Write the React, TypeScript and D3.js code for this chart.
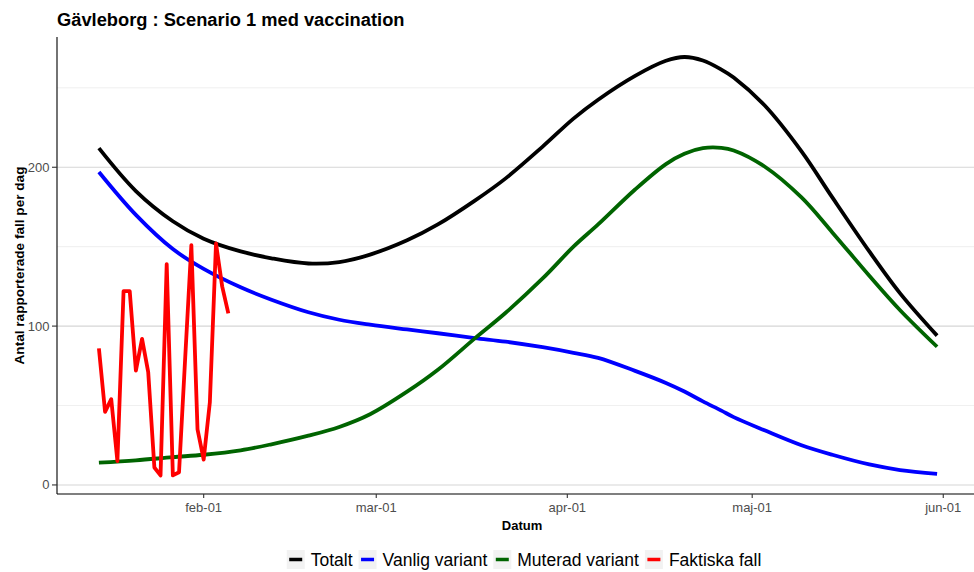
import React, { useRef, useEffect } from "react";
import * as d3 from "d3";

// modellkurvor
const modelDates = [
  "2021-01-15", "2021-01-21", "2021-01-27", "2021-02-01", "2021-02-07", "2021-02-12",
  "2021-02-18", "2021-02-23", "2021-02-28", "2021-03-06", "2021-03-11", "2021-03-17",
  "2021-03-22", "2021-03-28", "2021-04-02", "2021-04-06", "2021-04-12", "2021-04-17",
  "2021-04-20", "2021-04-23", "2021-04-26", "2021-04-28", "2021-05-03", "2021-05-09",
  "2021-05-14", "2021-05-20", "2021-05-25", "2021-05-31",
];
const totalt = [
  212, 185, 166, 155, 147, 142.7, 139.4, 140.3, 145, 154, 164, 179,
  193, 213, 230.6, 242.5, 257.5, 267, 269.4, 267.2, 261.5, 256.5, 239, 210,
  181, 147, 120.6, 94,
];
const vanlig = [
  197, 170, 148.5, 136, 124.4, 116.6, 108.7, 104, 100.9, 97.9, 95.5, 92.5,
  90.2, 86.7, 83.2, 80, 71.8, 64.2, 58.8, 52.6, 46.8, 42.7, 34.4, 25,
  19, 12.9, 9.4, 7,
];
const muterad = [
  14, 15.5, 17.5, 19, 21.8, 25.6, 31, 36.5, 44.5, 58.7, 72.5, 92.3,
  108.4, 130, 150, 164, 186, 202, 208.5, 212, 212.2, 210.6, 200.5, 181,
  159, 131.7, 110, 87,
];

// faktiska fall per dag
const faktiskaDates = [
  "2021-01-15", "2021-01-16", "2021-01-17", "2021-01-18", "2021-01-19", "2021-01-20",
  "2021-01-21", "2021-01-22", "2021-01-23", "2021-01-24", "2021-01-25", "2021-01-26",
  "2021-01-27", "2021-01-28", "2021-01-29", "2021-01-30", "2021-01-31", "2021-02-01",
  "2021-02-02", "2021-02-03", "2021-02-04", "2021-02-05",
];
const faktiska = [
  86, 46, 54, 15, 122, 122, 72, 92, 71, 11, 6, 139,
  6, 8, 80, 151, 35, 16, 52, 152, 125, 108,
];

const xTicks = ["2021-02-01", "2021-03-01", "2021-04-01", "2021-05-01", "2021-06-01"];
const xTickLabels = ["feb-01", "mar-01", "apr-01", "maj-01", "jun-01"];
const yMajor = [0, 100, 200];
const yMinor = [50, 150, 250];

const legendNames = ["Totalt", "Vanlig variant", "Muterad variant", "Faktiska fall"];
const legendColors = ["#000000", "#0000ff", "#006400", "#ff0000"];

const font = "'Liberation Sans', Arial, sans-serif";

function App() {
  const svgRef = useRef(null);

  useEffect(() => {
    document.body.style.margin = "0";
    const parse = d3.timeParse("%Y-%m-%d");
    const width = 974;
    const left = 57, right = 979, top = 37, bottom = 494;

    const svg = d3.select(svgRef.current);
    svg.selectAll("*").remove();

    const first = parse(modelDates[0]);
    const last = parse(modelDates[modelDates.length - 1]);
    const pad = (last - first) * 0.05;
    const x = d3.scaleTime()
      .domain([new Date(+first - pad), new Date(+last + pad)])
      .range([left, right]);
    const y = d3.scaleLinear().domain([-5.7, 282]).range([bottom, top]);

    // grid
    svg.append("g")
      .selectAll("line")
      .data(yMinor)
      .enter()
      .append("line")
      .attr("x1", left).attr("x2", width)
      .attr("y1", d => y(d)).attr("y2", d => y(d))
      .attr("stroke", "#ebebeb").attr("stroke-width", 0.8);
    svg.append("g")
      .selectAll("line")
      .data(yMajor)
      .enter()
      .append("line")
      .attr("x1", left).attr("x2", width)
      .attr("y1", d => y(d)).attr("y2", d => y(d))
      .attr("stroke", "#d6d6d6").attr("stroke-width", 1.1);

    // axlar
    svg.append("line")
      .attr("x1", left).attr("x2", left).attr("y1", top).attr("y2", bottom)
      .attr("stroke", "#000").attr("stroke-width", 1.1);
    svg.append("line")
      .attr("x1", left).attr("x2", width).attr("y1", bottom).attr("y2", bottom)
      .attr("stroke", "#000").attr("stroke-width", 1.1);

    // y ticks
    const yt = svg.append("g").selectAll("g").data(yMajor).enter().append("g");
    yt.append("line")
      .attr("x1", left - 5).attr("x2", left)
      .attr("y1", d => y(d)).attr("y2", d => y(d))
      .attr("stroke", "#333").attr("stroke-width", 1.1);
    yt.append("text")
      .attr("x", left - 7.5).attr("y", d => y(d))
      .attr("dy", "0.35em")
      .attr("text-anchor", "end")
      .style("font-family", font).style("font-size", "13px")
      .style("fill", "#4d4d4d")
      .text(d => d);

    // x ticks
    const xt = svg.append("g").selectAll("g").data(xTicks).enter().append("g");
    xt.append("line")
      .attr("x1", d => x(parse(d))).attr("x2", d => x(parse(d)))
      .attr("y1", bottom).attr("y2", bottom + 4)
      .attr("stroke", "#333").attr("stroke-width", 1.1);
    xt.append("text")
      .attr("x", d => x(parse(d))).attr("y", bottom + 18)
      .attr("text-anchor", "middle")
      .style("font-family", font).style("font-size", "13px")
      .style("fill", "#4d4d4d")
      .text((d, i) => xTickLabels[i]);

    // serier
    const series = [
      { dates: modelDates, values: totalt, color: legendColors[0], curve: d3.curveCatmullRom.alpha(0.5) },
      { dates: modelDates, values: vanlig, color: legendColors[1], curve: d3.curveCatmullRom.alpha(0.5) },
      { dates: modelDates, values: muterad, color: legendColors[2], curve: d3.curveCatmullRom.alpha(0.5) },
      { dates: faktiskaDates, values: faktiska, color: legendColors[3], curve: d3.curveLinear },
    ];
    series.forEach(s => {
      const pts = s.dates.map((d, i) => [parse(d), s.values[i]]);
      const line = d3.line()
        .x(d => x(d[0]))
        .y(d => y(d[1]))
        .curve(s.curve);
      svg.append("path")
        .attr("d", line(pts))
        .attr("fill", "none")
        .attr("stroke", s.color)
        .attr("stroke-width", 3.8)
        .attr("stroke-linejoin", "round");
    });

    // titlar
    svg.append("text")
      .attr("x", left).attr("y", 26)
      .style("font-family", font).style("font-size", "18.3px").style("font-weight", 700)
      .style("fill", "#000")
      .text("Gävleborg : Scenario 1 med vaccination");
    svg.append("text")
      .attr("transform", `translate(24,${(top + bottom) / 2}) rotate(-90)`)
      .attr("text-anchor", "middle")
      .style("font-family", font).style("font-size", "13.6px").style("font-weight", 700)
      .text("Antal rapporterade fall per dag");
    svg.append("text")
      .attr("x", 522).attr("y", bottom + 36)
      .attr("text-anchor", "middle")
      .style("font-family", font).style("font-size", "13px").style("font-weight", 700)
      .text("Datum");

    // legend
    const lg = svg.append("g");
    let cx = 0;
    const ly = 559.5;
    legendNames.forEach((name, i) => {
      const g = lg.append("g").attr("transform", `translate(${cx},0)`);
      g.append("rect")
        .attr("x", 0).attr("y", ly - 9.5).attr("width", 18).attr("height", 19)
        .attr("fill", "#f2f2f2");
      g.append("line")
        .attr("x1", 2.5).attr("x2", 15.5).attr("y1", ly).attr("y2", ly)
        .attr("stroke", legendColors[i]).attr("stroke-width", 3.5);
      const t = g.append("text")
        .attr("x", 24).attr("y", ly).attr("dy", "0.35em")
        .style("font-family", font).style("font-size", "17.5px")
        .style("fill", "#000")
        .text(name);
      cx += 24 + t.node().getComputedTextLength() + 6;
    });
    const total = cx - 6;
    lg.attr("transform", `translate(${524 - total / 2},0)`);
  }, []);

  return (
    <svg ref={svgRef} width={974} height={572} style={{ display: "block", background: "#fff" }} />
  );
}

export default App;
